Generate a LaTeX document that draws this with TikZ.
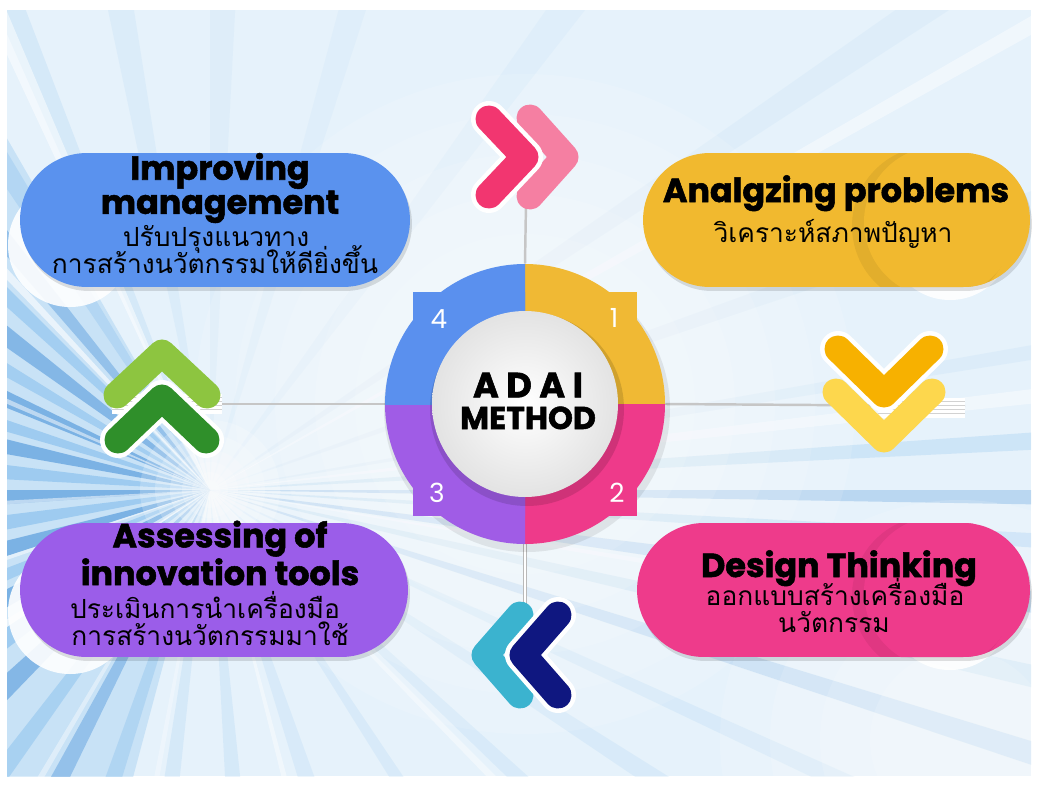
\documentclass[tikz,border=0pt]{standalone}
\usepackage{fontspec}
\setmainfont{Poppins}
\newfontfamily\ttl{Poppins}[BoldFeatures={FakeBold=1.6}]
\newfontfamily\thai[Script=Thai]{Loma}
\usetikzlibrary{shapes.misc}
\definecolor{bgbase}{HTML}{E6F2FB}
\definecolor{rd}{HTML}{1F78D0}
\definecolor{rm}{HTML}{5FAAE8}
\definecolor{pblue}{HTML}{5A92EE}
\definecolor{pyellow}{HTML}{F1B92F}
\definecolor{ppurple}{HTML}{9B5DE9}
\definecolor{ppink}{HTML}{EE3B8B}
\definecolor{qblue}{HTML}{5A90EE}
\definecolor{qyellow}{HTML}{F0B934}
\definecolor{qpurple}{HTML}{A05CE6}
\definecolor{qpink}{HTML}{EE3A8A}
\definecolor{cpinkd}{HTML}{F23670}
\definecolor{cpinkl}{HTML}{F57FA2}
\definecolor{corange}{HTML}{F7B100}
\definecolor{cyell}{HTML}{FDD74D}
\definecolor{cteal}{HTML}{3BB3CF}
\definecolor{cnavy}{HTML}{0F1780}
\definecolor{cgreenl}{HTML}{8DC540}
\definecolor{cgreend}{HTML}{2F8F2A}
\tikzset{
  pill/.style={rounded rectangle, minimum height=2.68cm, inner sep=0pt},
  ttlt/.style={font=\ttl\bfseries\fontsize{19}{16.4}\selectfont, align=center, inner sep=0pt},
  thait/.style={font=\thai\fontsize{15}{15}\selectfont, anchor=base, inner sep=0pt},
  num/.style={font=\ttl\fontsize{15}{15}\selectfont, text=white, inner sep=0pt},
  chev/.style={line width=0.54cm, line cap=round, line join=round},
  chevgap/.style={line width=0.72cm, line cap=round, line join=round, draw=white},
  cable/.style={draw=gray!45, line width=1.4pt},
}
\begin{document}
\begin{tikzpicture}[x=0.02cm,y=-0.02cm]
\useasboundingbox (0,0) rectangle (1038,785);
\fill[white] (0,0) rectangle (1038,785);
% ---------- background ----------
\begin{scope}
\clip (7,10) rectangle (1031,776);
\fill[bgbase] (7,10) rectangle (1031,776);
\fill[rm, opacity=0.22, shift={(210,490)}] (0,0) -- (105:1500) -- (240:1500) -- cycle;
\foreach \a/\w/\o/\c in {
 190/4/.45/rd, 196/3/.4/rm, 202/4/.45/rd, 209/3/.35/rm, 215/4/.4/rd, 222/3/.35/rm,
 229/3/.3/rd, 236/3/.2/rm, 246/3/.12/rm, 258/3/.08/rm,
 150/4/.45/rd, 156/3/.35/rm, 162/4/.45/rd, 169/4/.4/rm, 176/4/.45/rd, 183/4/.4/rm,
 142/4/.4/rm, 134/4/.4/rd, 125/3/.3/rm, 116/3/.3/rd, 107/3/.22/rm,
 96/3/.12/rm, 84/3/.12/rm, 70/3/.1/rm, 56/2/.1/rm, 42/2/.1/rm, 32/2/.1/rm,
 24/1.5/.1/rm, 17/1.5/.15/rd, 12/1.5/.16/rm, 7/1.5/.2/rd, 3/1/.2/rm, 0/1/.22/rd, 356/1.2/.18/rm,
 350/1/.07/rm, 340/1.5/.06/rm, 325/2/.06/rm, 305/3/.05/rm, 285/3/.05/rm, 270/3/.06/rm,
 146/1.5/.6/white, 161/1/.5/white, 176/1/.5/white, 203/1.2/.5/white, 226/1.5/.6/white,
 245/2/.5/white, 120/1/.4/white, 100/1/.3/white, 75/1/.4/white, 45/1/.4/white,
 9/0.6/.4/white, 353/1/.4/white, 330/1/.4/white}
 {\fill[\c, opacity=\o, shift={(210,490)}] (0,0) -- (\a:1500) -- (\a+\w:1500) -- cycle;}
\foreach \r in {70,55,40,28,18,10}
 {\fill[white, opacity=0.2] (210,490) circle (\r);}
\foreach \r in {330,290,250,210,170}
 {\fill[white, opacity=0.12] (525,404) circle (\r);}
\foreach \r in {240,190,140,90}
 {\fill[white, opacity=0.14] (960,740) circle (\r);}
\end{scope}
% ---------- connector cables ----------
\node[circle, minimum size=5.6cm, inner sep=0pt] (ring) at (525,404) {};
\coordinate (lnT) at (526,203);
\coordinate (lnB) at (525,608);
\coordinate (lnL) at (115,404);
\coordinate (lnR) at (965,406);
\draw[cable] (ring.north) -- (lnT);
\draw[draw=gray!55, line width=2.6pt] (ring.south) -- (lnB);
\draw[draw=white, line width=1pt] (ring.south) -- (lnB);
\draw[cable] (ring.west) -- (lnL);
\draw[cable] (ring.east) -- (lnR);
% cable bundles
\fill[white] (112,394) rectangle (222,414);
\foreach \yy in {397,401,405,409} {\draw[gray!35, line width=0.3pt] (112,\yy) -- (222,\yy);}
\fill[white] (878,398) rectangle (965,418);
\foreach \yy in {401,405,409,413} {\draw[gray!35, line width=0.3pt] (878,\yy) -- (965,\yy);}
% ---------- white disks behind pills ----------
\fill[white, opacity=0.9] (70,245) circle (62);
\fill[white, opacity=0.9] (70,612) circle (62);
\fill[white, opacity=0.9] (950,238) circle (62);
\fill[white, opacity=0.9] (950,608) circle (62);
% ---------- pills ----------
\node[pill, fill=black, opacity=0.12, minimum width=7.8cm] (shA) at (217,224) {};
\node[pill, fill=black, opacity=0.12, minimum width=7.74cm] (shB) at (838.5,224) {};
\node[pill, fill=black, opacity=0.12, minimum width=7.76cm] (shC) at (216,594) {};
\node[pill, fill=black, opacity=0.12, minimum width=7.86cm] (shD) at (835.5,594) {};
\node[pill, fill=pblue, minimum width=7.8cm] (pA) at (215,220) {};
\node[pill, fill=pyellow, minimum width=7.74cm] (pB) at (836.5,220) {};
\node[pill, fill=ppurple, minimum width=7.76cm] (pC) at (214,590) {};
\node[pill, fill=ppink, minimum width=7.86cm] (pD) at (833.5,590) {};
\begin{scope}
\clip[rounded corners=1.34cm] (643,153) rectangle (1030,287);
\fill[black, opacity=0.06] (932,226) circle (80);
\fill[pyellow] (940,222) circle (76);
\end{scope}
\begin{scope}
\clip[rounded corners=1.34cm] (637,523) rectangle (1030,657);
\fill[black, opacity=0.06] (932,596) circle (80);
\fill[ppink] (940,592) circle (76);
\end{scope}
% ---------- ring ----------
\fill[black, opacity=0.08] (527,409) circle (143);
\foreach \cx/\cy/\col in {680/240/qyellow, 680/570/qpink, 370/570/qpurple, 370/240/qblue}{
 \begin{scope}
 \clip (525,404) rectangle (\cx,\cy);
 \fill[\col] (525,404) circle (140);
 \fill[\col] (413,292) rectangle (637,516);
 \end{scope}}
\fill[black, opacity=0.13] (527,409) circle (97);
\shade[inner color=white, outer color=gray!22] (525,404) circle (93);
\node[num] (n4) at (439,319) {4};
\node[num] (n1) at (614,318) {1};
\node[num] (n3) at (437,493) {3};
\node[num] (n2) at (617,493) {2};
\node[font=\ttl\bfseries\fontsize{18}{18}\selectfont, align=center, inner sep=0pt] (adai) at (528,401)
 {{\fontsize{20}{18}\selectfont A D A I}\\METHOD};
% ---------- chevrons ----------
% top (right-pointing)
\draw[chev, cpinkl] (530,118) -- (565,157) -- (530,196);
\draw[chevgap] (489,119) -- (525,157) -- (489,195);
\draw[chev, cpinkd] (489,119) -- (525,157) -- (489,195);
% right (down-pointing)
\draw[chev, cyell] (836,392) -- (884,439) -- (932,392);
\draw[chevgap] (838,349) -- (884,394) -- (930,349);
\draw[chev, corange] (838,349) -- (884,394) -- (930,349);
% bottom (left-pointing)
\draw[chev, cteal] (520,615) -- (485,655) -- (520,695);
\draw[chevgap] (558,615) -- (523,655) -- (558,695);
\draw[chev, cnavy] (558,615) -- (523,655) -- (558,695);
% left (up-pointing)
\draw[chev, cgreenl] (117,395) -- (162,353) -- (207,395);
\draw[chevgap] (118,440) -- (162,398) -- (206,440);
\draw[chev, cgreend] (118,440) -- (162,398) -- (206,440);
% ---------- texts ----------
\node[ttlt] (tA) at (220,188) {Improving\\management};
\node[thait] (tA3) at (216,246) {ปรับปรุงแนวทาง};
\node[thait] (tA4) at (215,273) {การสร้างนวัตกรรมให้ดียิ่งขึ้น};
\node[ttlt, anchor=base] (tB1) at (836,202) {Analgzing problems};
\node[thait] (tB2) at (833,242) {วิเคราะห์สภาพปัญหา};
\node[ttlt] (tC) at (220,553) {Assessing of\\innovation tools};
\node[thait] (tC3) at (205,618) {ประเมินการนำเครื่องมือ};
\node[thait] (tC4) at (210,645) {การสร้างนวัตกรรมมาใช้};
\node[ttlt, anchor=base] (tD1) at (839,577) {Design Thinking};
\node[thait] (tD2) at (835,605) {ออกแบบสร้างเครื่องมือ};
\node[thait] (tD3) at (834,632) {นวัตกรรม};
\end{tikzpicture}
\end{document}
